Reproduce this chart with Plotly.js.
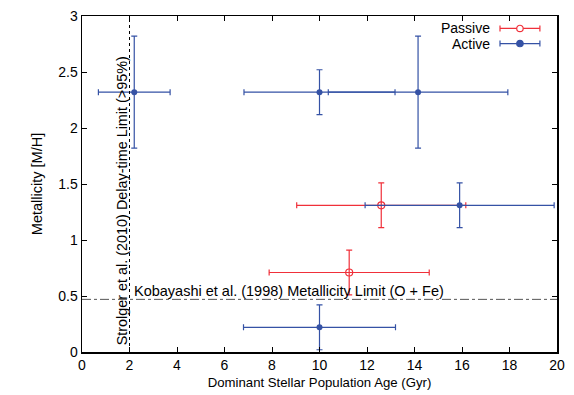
<!DOCTYPE html>
<html><head><meta charset="utf-8">
<script src="https://cdn.plot.ly/plotly-3.0.1.min.js"></script>
<style>html,body{margin:0;padding:0;background:#fff}#c{width:574px;height:395px}</style>
</head><body><div id="c"></div>
<script>
// Passive galaxies
const passiveAge = [12.6, 11.25];
const passiveAgeErr = [3.56, 3.37];
const passiveMet = [1.31, 0.71];
const passiveMetErr = [0.2, 0.2];
// Active galaxies
const activeAge = [2.2, 10.0, 14.15, 15.9, 10.0];
const activeAgeErr = [1.51, 3.18, 3.78, 3.98, 3.2];
const activeMet = [2.32, 2.32, 2.32, 1.31, 0.22];
const activeMetErr = [0.5, 0.2, 0.5, 0.2, 0.2];
// reference limits
const delayTimeLimit = 2.0;
const metallicityLimit = 0.47;

const RED = '#f0303a', BLUE = '#3552a5';
const font = 'Liberation Sans, Arial, sans-serif';

const traces = [
  {x: passiveAge, y: passiveMet, type:'scatter', mode:'markers', name:'Passive',
   marker:{symbol:'circle-open', size:7, color:RED, line:{width:1.2, color:RED}},
   error_x:{type:'data', array:passiveAgeErr, color:RED, thickness:1.2, width:3},
   error_y:{type:'data', array:passiveMetErr, color:RED, thickness:1.2, width:3}},
  {x: activeAge, y: activeMet, type:'scatter', mode:'markers', name:'Active',
   marker:{symbol:'circle', size:6, color:BLUE},
   error_x:{type:'data', array:activeAgeErr, color:BLUE, thickness:1.2, width:3},
   error_y:{type:'data', array:activeMetErr, color:BLUE, thickness:1.2, width:3}}
];

const xL = 0.880, xR = 0.964, xM = 0.922; // legend sample positions (paper)
const legY = [0.963, 0.918];
const legCol = [RED, BLUE];
const legName = ['Passive', 'Active'];

const shapes = [
  {type:'line', xref:'x', yref:'paper', x0:delayTimeLimit, x1:delayTimeLimit, y0:0, y1:1,
   line:{color:'#000', width:1, dash:'dot'}},
  {type:'line', xref:'paper', yref:'y', x0:0, x1:1, y0:metallicityLimit, y1:metallicityLimit,
   line:{color:'#555', width:1, dash:'dashdot'}}
];
const annotations = [
  {x:delayTimeLimit + 0.12, y:metallicityLimit, xref:'x', yref:'y', xanchor:'left', yanchor:'bottom',
   text:'Kobayashi et al. (1998) Metallicity Limit (O + Fe)', showarrow:false,
   font:{family:font, size:14.5, color:'#000'}, yshift:-2},
  {x:delayTimeLimit, y:1.35, xref:'x', yref:'y', xanchor:'right', yanchor:'middle', textangle:-90,
   text:'Strolger et al. (2010) Delay-time Limit (>95%)', showarrow:false,
   font:{family:font, size:14.4, color:'#000'}, xshift:2}
];
legName.forEach((n, i) => {
  const c = legCol[i], y = legY[i];
  shapes.push({type:'line', xref:'paper', yref:'paper', x0:xL, x1:xR, y0:y, y1:y, line:{color:c, width:1.2}});
  shapes.push({type:'line', xref:'paper', yref:'paper', x0:xL, x1:xL, y0:y-0.009, y1:y+0.009, line:{color:c, width:1.2}});
  shapes.push({type:'line', xref:'paper', yref:'paper', x0:xR, x1:xR, y0:y-0.009, y1:y+0.009, line:{color:c, width:1.2}});
  shapes.push({type:'circle', xref:'paper', yref:'paper', x0:xM-0.0068, x1:xM+0.0068, y0:y-0.0095, y1:y+0.0095,
    line:{color:c, width:1.2}, fillcolor: i === 0 ? '#fff' : c});
  annotations.push({x:0.863, y:y, xref:'paper', yref:'paper', xanchor:'right', yanchor:'middle',
    text:n, showarrow:false, font:{family:font, size:14, color:'#000'}});
});

const layout = {
  width:574, height:395,
  margin:{l:81.5, r:17, t:15.5, b:42.5},
  paper_bgcolor:'#fff', plot_bgcolor:'#fff',
  showlegend:false,
  font:{family:font, size:14, color:'#000'},
  xaxis:{range:[0,20], dtick:2, tick0:0, ticks:'inside', ticklen:5, tickcolor:'#000',
    showline:true, linecolor:'#000', linewidth:1.5, mirror:'ticks', showgrid:false, zeroline:false,
    title:{text:'Dominant Stellar Population Age (Gyr)', font:{size:13.2}, standoff:5},
    tickfont:{size:14}},
  yaxis:{range:[0,3], dtick:0.5, tick0:0, ticks:'inside', ticklen:5, tickcolor:'#000',
    showline:true, linecolor:'#000', linewidth:1.5, mirror:'ticks', showgrid:false, zeroline:false,
    title:{text:'Metallicity [M/H]', font:{size:14.5}, standoff:12},
    tickfont:{size:14}},
  shapes, annotations
};
Plotly.newPlot('c', traces, layout, {displayModeBar:false, staticPlot:true});
</script></body></html>
